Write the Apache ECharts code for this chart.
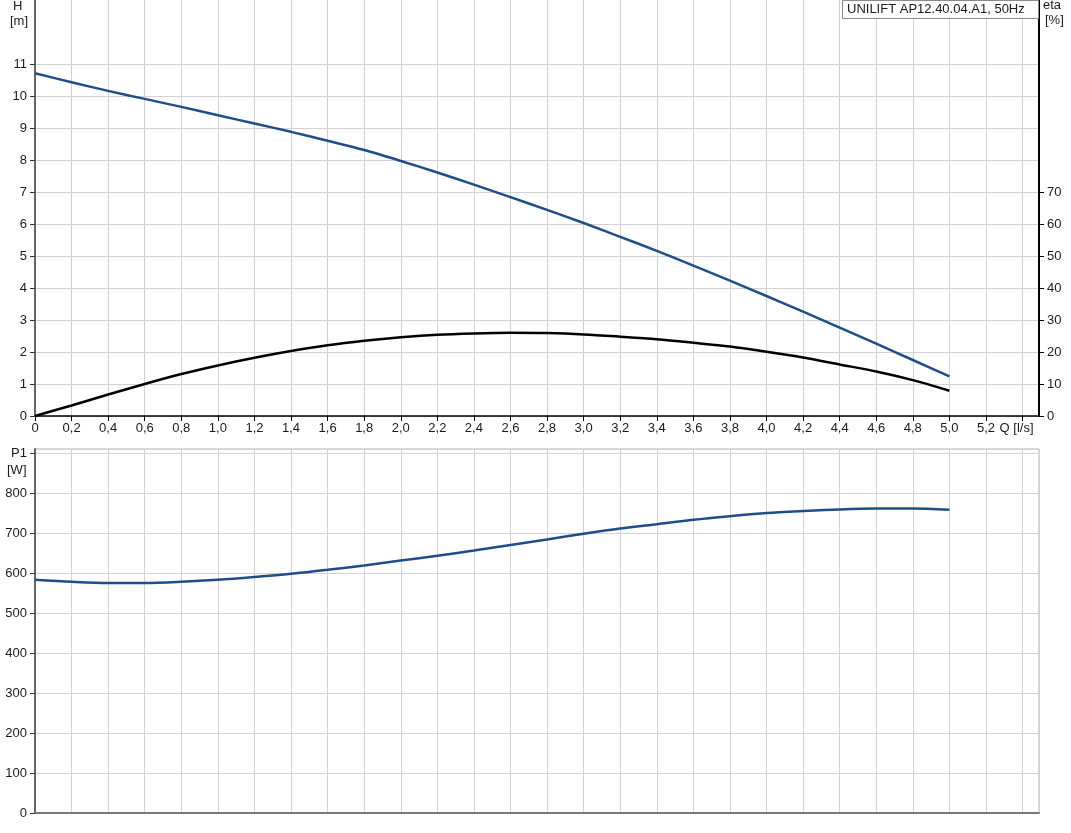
<!DOCTYPE html>
<html>
<head>
<meta charset="utf-8">
<script src="https://cdn.jsdelivr.net/npm/echarts@6/dist/echarts.min.js"></script>
<style>
html,body{margin:0;padding:0;background:#fff;}
#chart{width:1071px;height:833px;}
</style>
</head>
<body>
<div id="chart"></div>
<script>
// ---- data ----
const Q   = [0, 0.2, 0.4, 0.6, 0.8, 1.0, 1.2, 1.4, 1.6, 1.8, 2.0, 2.2, 2.4, 2.6, 2.8, 3.0, 3.2, 3.4, 3.6, 3.8, 4.0, 4.2, 4.4, 4.6, 4.8, 5.0];
const H   = [10.71, 10.43, 10.16, 9.91, 9.66, 9.40, 9.14, 8.88, 8.60, 8.31, 7.97, 7.61, 7.23, 6.84, 6.44, 6.03, 5.60, 5.16, 4.70, 4.23, 3.75, 3.26, 2.76, 2.26, 1.75, 1.24];
const ETA = [0, 3.3, 6.7, 10.0, 13.1, 15.8, 18.2, 20.3, 22.1, 23.5, 24.6, 25.4, 25.8, 26.0, 25.9, 25.5, 24.8, 24.0, 22.9, 21.7, 20.1, 18.3, 16.1, 13.9, 11.2, 7.9];
const P1  = [583, 578, 575, 575, 578, 583, 590, 598, 608, 619, 631, 643, 656, 670, 684, 698, 711, 722, 733, 742, 750, 755, 759, 761, 761, 758];

const xTicks   = [0, 0.2, 0.4, 0.6, 0.8, 1.0, 1.2, 1.4, 1.6, 1.8, 2.0, 2.2, 2.4, 2.6, 2.8, 3.0, 3.2, 3.4, 3.6, 3.8, 4.0, 4.2, 4.4, 4.6, 4.8, 5.0, 5.2, 5.4];
const hTicks   = [0, 1, 2, 3, 4, 5, 6, 7, 8, 9, 10, 11];
const etaTicks = [0, 10, 20, 30, 40, 50, 60, 70];
const pTicks   = [0, 100, 200, 300, 400, 500, 600, 700, 800, 900];
const titleText = 'UNILIFT AP12.40.04.A1, 50Hz';

const pairs = (ys) => Q.map((q, i) => [q, ys[i]]);
const FONT = 'Liberation Sans, Arial, sans-serif';
const gridLine = { show: true, lineStyle: { color: '#d2d2d2', width: 1 } };
const lbl = { fontFamily: FONT, fontSize: 13, color: '#1a1a1a' };

const chart = echarts.init(document.getElementById('chart'), null, { renderer: 'canvas' });

chart.setOption({
  animation: false,
  backgroundColor: '#fff',
  grid: [
    { left: 35, top: 0, width: 1004, height: 416, show: false },
    { left: 35, top: 449, width: 1004, height: 364, show: true, borderColor: '#b0b0b0', borderWidth: 1 }
  ],
  xAxis: [
    {
      type: 'value', gridIndex: 0, min: 0, max: 5.49, interval: 0.2,
      axisLine: { show: true, onZero: false, lineStyle: { color: '#000', width: 1.5 } },
      axisTick: { show: true, length: 5, customValues: xTicks, lineStyle: { color: '#000' } },
      axisLabel: Object.assign({}, lbl, {
        customValues: xTicks, margin: 6,
        formatter: (v) => {
          if (Math.abs(v - 5.4) < 1e-6) return '{q|Q [l/s]}';
          if (Math.abs(v) < 1e-9) return '0';
          return v.toFixed(1).replace('.', ',');
        },
        rich: { q: { fontFamily: FONT, fontSize: 13, color: '#1a1a1a', padding: [0, 12, 0, 0] } }
      }),
      splitLine: gridLine
    },
    {
      type: 'value', gridIndex: 1, min: 0, max: 5.49, interval: 0.2,
      axisLine: { show: true, onZero: false, lineStyle: { color: '#777', width: 2 } },
      axisTick: { show: false },
      axisLabel: { show: false },
      splitLine: gridLine
    }
  ],
  yAxis: [
    {
      type: 'value', gridIndex: 0, min: 0, max: 13, interval: 1, position: 'left',
      axisLine: { show: true, lineStyle: { color: '#666', width: 2 } },
      axisTick: { show: true, length: 5, customValues: hTicks, lineStyle: { color: '#333' } },
      axisLabel: Object.assign({}, lbl, { customValues: hTicks }),
      splitLine: gridLine
    },
    {
      type: 'value', gridIndex: 0, min: 0, max: 130, interval: 10, position: 'right',
      axisLine: { show: true, lineStyle: { color: '#000', width: 2 } },
      axisTick: { show: true, length: 5, customValues: etaTicks, lineStyle: { color: '#000' } },
      axisLabel: Object.assign({}, lbl, { customValues: etaTicks }),
      splitLine: { show: false }
    },
    {
      type: 'value', gridIndex: 1, min: 0, max: 910, interval: 100, position: 'left',
      axisLine: { show: true, lineStyle: { color: '#666', width: 2 } },
      axisTick: { show: true, length: 5, customValues: pTicks, lineStyle: { color: '#333' } },
      axisLabel: Object.assign({}, lbl, {
        customValues: pTicks,
        formatter: (v) => (v === 900 ? 'P1' : String(v))
      }),
      splitLine: gridLine
    }
  ],
  title: {
    text: titleText,
    left: 842, top: 0,
    padding: [3, 14, 3, 5],
    borderColor: '#8a8a8a', borderWidth: 1, backgroundColor: '#fff',
    textStyle: { fontFamily: FONT, fontSize: 13, fontWeight: 'normal', color: '#1a1a1a' }
  },
  graphic: [
    { type: 'text', left: 13, top: 0, style: { text: 'H', font: '13px ' + FONT, fill: '#1a1a1a' } },
    { type: 'text', left: 10, top: 15, style: { text: '[m]', font: '13px ' + FONT, fill: '#1a1a1a' } },
    { type: 'text', left: 1043, top: -1, style: { text: 'eta', font: '13px ' + FONT, fill: '#1a1a1a' } },
    { type: 'text', left: 1045, top: 14, style: { text: '[%]', font: '13px ' + FONT, fill: '#1a1a1a' } },
    { type: 'text', left: 7, top: 464, style: { text: '[W]', font: '13px ' + FONT, fill: '#1a1a1a' } }
  ],
  series: [
    {
      name: 'H', type: 'line', xAxisIndex: 0, yAxisIndex: 0, data: pairs(H),
      smooth: 0.3, showSymbol: false, lineStyle: { color: '#1d4e89', width: 2.5 }, z: 5
    },
    {
      name: 'eta', type: 'line', xAxisIndex: 0, yAxisIndex: 1, data: pairs(ETA),
      smooth: 0.3, showSymbol: false, lineStyle: { color: '#000', width: 2.5 }, z: 5
    },
    {
      name: 'P1', type: 'line', xAxisIndex: 1, yAxisIndex: 2, data: pairs(P1),
      smooth: 0.3, showSymbol: false, lineStyle: { color: '#1d4e89', width: 2.5 }, z: 5
    }
  ]
});
</script>
</body>
</html>
